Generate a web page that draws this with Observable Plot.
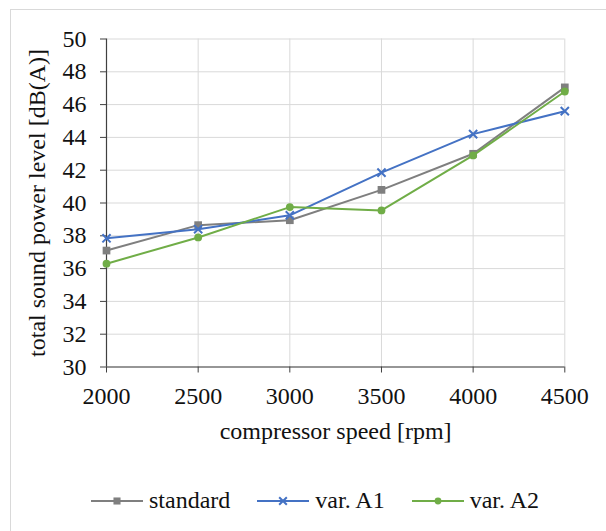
<!DOCTYPE html>
<html>
<head>
<meta charset="utf-8">
<script src="https://cdn.jsdelivr.net/npm/d3@7"></script>
<script src="https://cdn.jsdelivr.net/npm/@observablehq/plot@0.6"></script>
<style>
  html, body { margin: 0; padding: 0; background: #fff; }
  #frame { position: relative; width: 606px; height: 531px; overflow: hidden; font-family: "Liberation Serif", "Times New Roman", serif; }
  #border { position: absolute; left: 10px; top: 9px; width: 620px; height: 560px; border: 1px solid #d9d9d9; box-sizing: border-box; }
  #chart { position: absolute; left: 0; top: 0; }
  #legend { position: absolute; left: 91px; top: 487px; display: flex; gap: 27px; align-items: center; font-size: 24px; color: #111; }
  .item { display: flex; align-items: center; gap: 6px; }
  .item svg { display: block; }
</style>
</head>
<body>
<div id="frame">
  <div id="border"></div>
  <div id="chart"></div>
  <div id="legend"></div>
</div>
<script>
// Compressor speeds (rpm) and total sound power level per variant (dB(A))
const speeds   = [2000, 2500, 3000, 3500, 4000, 4500];
const standard = [37.1, 38.65, 38.95, 40.8, 43.0, 47.05];
const varA1    = [37.85, 38.4, 39.25, 41.85, 44.2, 45.6];
const varA2    = [36.3, 37.9, 39.75, 39.55, 42.9, 46.8];

const xTicks = [2000, 2500, 3000, 3500, 4000, 4500];
const yTicks = [30, 32, 34, 36, 38, 40, 42, 44, 46, 48, 50];

const seriesNames = ["standard", "var. A1", "var. A2"];
const seriesColors = ["#7f7f7f", "#4472c4", "#70ad47"];
const seriesSymbols = ["square", "times", "circle"];
const seriesValues = [standard, varA1, varA2];

const rows = seriesNames.flatMap((name, i) =>
  speeds.map((s, j) => ({series: name, speed: s, level: seriesValues[i][j]}))
);

const axisColor = "#404040";
const gridColor = "#d9d9d9";
const textColor = "#111";
const fontSize = 24;

const marks = [
  Plot.gridX(xTicks, {stroke: gridColor, strokeOpacity: 1, strokeWidth: 1}),
  Plot.gridY(yTicks, {stroke: gridColor, strokeOpacity: 1, strokeWidth: 1}),
  Plot.ruleX([2000], {stroke: axisColor, strokeWidth: 1.2}),
  Plot.ruleY([30], {stroke: axisColor, strokeWidth: 1.2}),
  Plot.axisX(xTicks, {
    tickSize: 6, tickPadding: 14, stroke: axisColor, fill: textColor,
    tickFormat: d => String(d), fontSize, label: null
  }),
  Plot.axisY(yTicks, {
    tickSize: 6, tickPadding: 14, stroke: axisColor, fill: textColor,
    tickFormat: d => String(d), fontSize, label: null
  }),
  Plot.text(["compressor speed [rpm]"], {
    frameAnchor: "bottom", dy: 64, fontSize, fill: textColor, lineAnchor: "middle"
  }),
  Plot.text(["total sound power level [dB(A)]"], {
    frameAnchor: "left", dx: -69, rotate: -90, textAnchor: "middle", lineAnchor: "middle", fontSize, fill: textColor
  })
];

seriesNames.forEach((name, i) => {
  const data = rows.filter(d => d.series === name);
  marks.push(Plot.line(data, {x: "speed", y: "level", stroke: seriesColors[i], strokeWidth: 2}));
  if (seriesSymbols[i] === "times") {
    marks.push(Plot.dot(data, {x: "speed", y: "level", symbol: "times", stroke: seriesColors[i], strokeWidth: 2, r: 3.8}));
  } else {
    marks.push(Plot.dot(data, {x: "speed", y: "level", symbol: seriesSymbols[i], fill: seriesColors[i], stroke: "none", r: seriesSymbols[i] === "square" ? 4.35 : 3.9}));
  }
});

const chart = Plot.plot({
  width: 606,
  height: 460,
  marginLeft: 106,
  marginRight: 41.7,
  marginTop: 38.5,
  marginBottom: 93.5,
  style: {fontFamily: '"Liberation Serif", "Times New Roman", serif', background: "transparent", overflow: "visible"},
  x: {domain: [2000, 4500]},
  y: {domain: [30, 50]},
  marks
});
document.getElementById("chart").appendChild(chart);

// Legend below the chart
const legend = document.getElementById("legend");
seriesNames.forEach((name, i) => {
  const item = document.createElement("div");
  item.className = "item";
  const ns = "http://www.w3.org/2000/svg";
  const sw = document.createElementNS(ns, "svg");
  sw.setAttribute("width", 52);
  sw.setAttribute("height", 14);
  const ln = document.createElementNS(ns, "line");
  ln.setAttribute("x1", 0); ln.setAttribute("x2", 52);
  ln.setAttribute("y1", 7); ln.setAttribute("y2", 7);
  ln.setAttribute("stroke", seriesColors[i]); ln.setAttribute("stroke-width", 2);
  sw.appendChild(ln);
  const p = document.createElementNS(ns, "path");
  const sym = {square: d3.symbolSquare, times: d3.symbolTimes, circle: d3.symbolCircle}[seriesSymbols[i]];
  p.setAttribute("d", d3.symbol(sym, seriesSymbols[i] === "circle" ? 36 : seriesSymbols[i] === "square" ? 50 : 40)());
  p.setAttribute("transform", "translate(26,7)");
  if (seriesSymbols[i] === "times") {
    p.setAttribute("fill", "none"); p.setAttribute("stroke", seriesColors[i]); p.setAttribute("stroke-width", 2);
  } else {
    p.setAttribute("fill", seriesColors[i]);
  }
  sw.appendChild(p);
  const label = document.createElement("span");
  label.textContent = name;
  item.appendChild(sw);
  item.appendChild(label);
  legend.appendChild(item);
});
</script>
</body>
</html>
